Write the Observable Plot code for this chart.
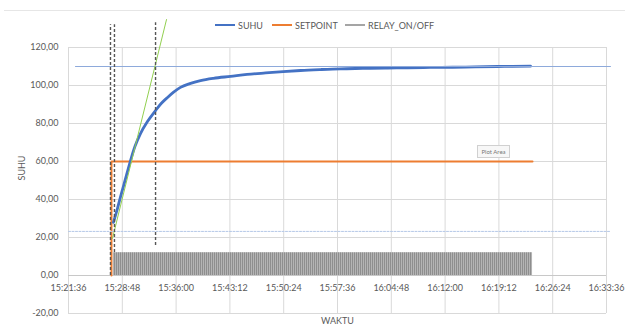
<!DOCTYPE html>
<html><head><meta charset="utf-8">
<script src="https://cdn.jsdelivr.net/npm/d3@7"></script>
<script src="https://cdn.jsdelivr.net/npm/@observablehq/plot@0.6"></script>
<style>
body{margin:0;background:#fff;font-family:Lato,"Open Sans",sans-serif;}
#wrap{position:relative;width:625px;height:324px;overflow:hidden;}
.lg{position:absolute;top:19px;font-size:9px;color:#595959;display:flex;align-items:center;height:12px;}
.lg span.sw{display:inline-block;width:20px;height:2px;margin-right:3px;}
#border{position:absolute;left:4px;right:0;top:10px;border-top:1px solid #e6e6e6;}
#tip{position:absolute;left:477px;top:145px;width:31px;height:11px;border:1px solid #d0d0d0;background:#f7f7f7;font-size:6px;color:#777;text-align:center;line-height:11px;}
</style></head>
<body><div id="wrap"><div id="border"></div></div>
<script>
// ---- data ----
const xTickLabels = ["15:21:36","15:28:48","15:36:00","15:43:12","15:50:24","15:57:36","16:04:48","16:12:00","16:19:12","16:26:24","16:33:36"];
const yTicks = [-20,0,20,40,60,80,100,120];

const suhuTime = ["15:27:37","15:28:10","15:28:40","15:29:10","15:29:54","15:30:30","15:31:14","15:32:10","15:33:15","15:34:00","15:34:51","15:35:40","15:36:35","15:37:50","15:39:16","15:41:00","15:43:17","15:45:30","15:47:58","15:50:20","15:52:39","15:55:20","15:58:00","16:01:00","16:04:00","16:07:00","16:10:00","16:13:00","16:16:00","16:19:00","16:21:00","16:23:26"];
const suhuValue = [28,35.5,43,50,60.5,68,74.7,81,86.8,90.5,93.7,96.5,99,101,102.6,103.8,104.8,105.8,106.6,107.3,107.9,108.4,108.8,109.0,109.2,109.3,109.5,109.6,109.8,110.0,110.1,110.2];

const setpointTime = ["15:27:21","15:27:21","16:23:42"];
const setpointValue = [0,60,60];

const relayStart = "15:27:37";
const relayEnd = "16:23:42";
const relayOn = 12;

const targetLineTime = ["15:22:32","16:34:08"];
const targetLineValue = [110,110];
const lowLineTime = ["15:21:36","16:34:08"];
const lowLineValue = [23.2,23.2];

const tangentTime = ["15:27:29","15:34:43"];
const tangentValue = [19.5,134.7];

const dashedLines = [
  {t:"15:27:13", v1:0, v2:132},
  {t:"15:27:45", v1:12.1, v2:132},
  {t:"15:33:15", v1:15.8, v2:133}
];

// ---- build ----
const parse = d3.utcParse("%H:%M:%S");
const xTicks = xTickLabels.map(parse);
const pts = (ts, vs) => ts.map((t,i)=>({t:parse(t), v:vs[i]}));
const suhu = pts(suhuTime, suhuValue);
const setpoint = pts(setpointTime, setpointValue);
const target = pts(targetLineTime, targetLineValue);
const low = pts(lowLineTime, lowLineValue);
const tangent = pts(tangentTime, tangentValue);
const relay = [{x1:parse(relayStart), x2:parse(relayEnd), y1:0, y2:relayOn}];
const dashed = dashedLines.map(d=>({t:parse(d.t), v1:d.v1, v2:d.v2}));
const fmtY = d => d.toFixed(2).replace(".", ",");

const chart = Plot.plot({
  width: 625, height: 324,
  marginLeft: 68, marginRight: 19, marginTop: 47, marginBottom: 11,
  style: {fontFamily: "Lato, 'Open Sans', sans-serif", fontSize: "9px", color: "#595959", background: "transparent", overflow: "visible"},
  x: {type: "utc", domain: [xTicks[0], xTicks[xTicks.length-1]], axis: null},
  y: {domain: [-20,120], axis: null},
  marks: [
    Plot.ruleY(yTicks, {stroke: "#d9d9d9", strokeWidth: 1}),
    Plot.ruleX(xTicks, {stroke: "#d9d9d9", strokeWidth: 1}),
    Plot.ruleY([0], {stroke: "#c8c8c8", strokeWidth: 1}),
    Plot.text(yTicks, {y: d=>d, frameAnchor: "left", dx: -10, textAnchor: "end", text: fmtY, fill: "#595959"}),
    Plot.text(xTicks, {x: d=>d, y: () => 0, dy: 13, text: (d,i)=>xTickLabels[i], fill: "#595959"}),
    Plot.text(["SUHU"], {frameAnchor: "left", dx: -46, rotate: -90, fill: "#595959"}),
    Plot.text(["WAKTU"], {frameAnchor: "bottom", dy: 10, fill: "#595959"}),
    Plot.rect(relay, {x1:"x1", x2:"x2", y1:"y1", y2:"y2", fill: "url(#relayPat)"}),
    Plot.line(setpoint, {x:"t", y:"v", stroke:"#ed7d31", strokeWidth: 2}),
    Plot.line(low, {x:"t", y:"v", stroke:"#b4c7e7", strokeWidth: 1, strokeDasharray: "2,1.5"}),
    Plot.line(suhu, {x:"t", y:"v", stroke:"#4472c4", strokeWidth: 2.8, curve: "monotone-x"}),
    Plot.line(target, {x:"t", y:"v", stroke:"#8eaadb", strokeWidth: 1}),
    Plot.line(tangent, {x:"t", y:"v", stroke:"#92d050", strokeWidth: 1}),
    Plot.ruleX(dashed, {x:"t", y1:"v1", y2:"v2", stroke:"#555555", strokeWidth: 1.4, strokeDasharray: "3,2"})
  ]
});

const defs = d3.select(chart).insert("defs", ":first-child");
const pat = defs.append("pattern").attr("id","relayPat").attr("patternUnits","userSpaceOnUse").attr("width",2).attr("height",10);
pat.append("rect").attr("width",2).attr("height",10).attr("fill","#b4b4b4");
pat.append("rect").attr("width",1).attr("height",10).attr("fill","#8e8e8e");

const wrap = document.getElementById("wrap");
chart.style.position = "absolute"; chart.style.left = "0"; chart.style.top = "0";
wrap.appendChild(chart);

const legend = [
  {label:"SUHU", color:"#4472c4", left:215},
  {label:"SETPOINT", color:"#ed7d31", left:272},
  {label:"RELAY_ON/OFF", color:"#a5a5a5", left:345}
];
legend.forEach(l=>{
  const d = document.createElement("div");
  d.className = "lg"; d.style.left = l.left + "px";
  d.innerHTML = `<span class="sw" style="background:${l.color}"></span>${l.label}`;
  wrap.appendChild(d);
});
const tip = document.createElement("div"); tip.id = "tip"; tip.textContent = "Plot Area"; wrap.appendChild(tip);
</script>
</body></html>
